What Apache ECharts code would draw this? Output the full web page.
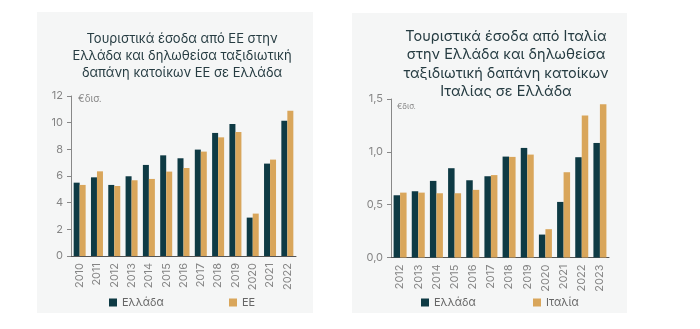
<!DOCTYPE html>
<html><head><meta charset="utf-8">
<script src="https://cdn.jsdelivr.net/npm/echarts@6/dist/echarts.min.js"></script>
<style>html,body{margin:0;padding:0;background:#fff}#c{width:700px;height:329px}</style>
</head><body><div id="c"></div>
<script>
const yearsEU = ['2010','2011','2012','2013','2014','2015','2016','2017','2018','2019','2020','2021','2022'];
const greeceEU = [5.5,5.9,5.33,5.98,6.83,7.55,7.33,7.98,9.23,9.9,2.88,6.93,10.15];
const euSpend = [5.33,6.35,5.25,5.68,5.78,6.33,6.6,7.83,8.9,9.3,3.18,7.23,10.9];
const euTicks = ['0','2','4','6','8','10','12'];

const yearsIT = ['2012','2013','2014','2015','2016','2017','2018','2019','2020','2021','2022','2023'];
const greeceIT = [0.589,0.627,0.725,0.845,0.731,0.769,0.955,1.037,0.217,0.526,0.949,1.084];
const itSpend = [0.614,0.614,0.608,0.608,0.64,0.78,0.952,0.974,0.268,0.807,1.343,1.45];
const itTicks = ['0,0','0,5','1,0','1,5'];

const DARK = '#0e3a44', GOLD = '#d9a65b', AXIS = '#888', LBL = '#858585';
const FONT = 'Inter, "Open Sans", sans-serif';
const chart = echarts.init(document.getElementById('c'));
const catAxis = (data, gi) => ({
  type:'category', gridIndex:gi, data:data,
  axisLine:{lineStyle:{color:'#555',width:1}}, axisTick:{show:false},
  axisLabel:{rotate:90, color:LBL, fontSize:11, fontFamily:FONT, margin:7}
});
chart.setOption({
  animation:false,
  graphic:[
    {type:'rect', shape:{x:37,y:12,width:276,height:301}, style:{fill:'#f5f6f6'}, z:-10},
    {type:'rect', shape:{x:352,y:13,width:275,height:300}, style:{fill:'#f5f6f6'}, z:-10},
    {type:'text', left:78, top:94, style:{text:'€δισ.', fill:'#888', fontSize:10, fontFamily:FONT}},
    {type:'text', left:397, top:103, style:{text:'€δισ.', fill:'#888', fontSize:8, fontFamily:FONT}}
  ],
  title:[
    {text:'Τουριστικά έσοδα από ΕΕ στην\nΕλλάδα και δηλωθείσα ταξιδιωτική\nδαπάνη κατοίκων ΕΕ σε Ελλάδα',
     left:177, top:26, textAlign:'center',
     textStyle:{fontSize:13, fontWeight:'normal', color:'#263c42', fontFamily:FONT, lineHeight:17}},
    {text:'Τουριστικά έσοδα από Ιταλία\nστην Ελλάδα και δηλωθείσα\nταξιδιωτική δαπάνη κατοίκων\nΙταλίας σε Ελλάδα',
     left:501, top:22, textAlign:'center',
     textStyle:{fontSize:14.5, fontWeight:'normal', color:'#263c42', fontFamily:FONT, lineHeight:18.5}}
  ],
  legend:[
    {data:['Ελλάδα'], left:104, top:292, itemWidth:8, itemHeight:8, itemGap:4,
     textStyle:{color:'#666', fontSize:11, fontFamily:FONT}, icon:'rect'},
    {data:['ΕΕ'], left:224, top:292, itemWidth:8, itemHeight:8,
     textStyle:{color:'#666', fontSize:11, fontFamily:FONT}, icon:'rect'},
    {data:['Ελλάδα '], left:416, top:292, itemWidth:8, itemHeight:8,
     textStyle:{color:'#666', fontSize:11, fontFamily:FONT}, icon:'rect', formatter:()=>'Ελλάδα'},
    {data:['Ιταλία'], left:528, top:292, itemWidth:8, itemHeight:8,
     textStyle:{color:'#666', fontSize:11, fontFamily:FONT}, icon:'rect'}
  ],
  grid:[
    {left:71, top:96, width:225, height:160},
    {left:391, top:99, width:218, height:158.5}
  ],
  xAxis:[catAxis(yearsEU,0), catAxis(yearsIT,1)],
  yAxis:[
    {type:'value', gridIndex:0, min:0, max:12, interval:2,
     axisLine:{show:true, lineStyle:{color:AXIS}}, axisTick:{show:true, length:4, lineStyle:{color:AXIS}},
     splitLine:{show:false},
     axisLabel:{color:LBL, fontSize:11, fontFamily:FONT, margin:8, formatter:(v)=>euTicks[Math.round(v/2)]}},
    {type:'value', gridIndex:1, min:0, max:1.5, interval:0.5,
     axisLine:{show:true, lineStyle:{color:AXIS}}, axisTick:{show:true, length:4, lineStyle:{color:AXIS}},
     splitLine:{show:false},
     axisLabel:{color:LBL, fontSize:11, fontFamily:FONT, margin:8, formatter:(v)=>itTicks[Math.round(v*2)]}}
  ],
  series:[
    {name:'Ελλάδα', type:'bar', xAxisIndex:0, yAxisIndex:0, data:greeceEU, itemStyle:{color:DARK}, barWidth:6, barGap:'0%'},
    {name:'ΕΕ', type:'bar', xAxisIndex:0, yAxisIndex:0, data:euSpend, itemStyle:{color:GOLD}, barWidth:6, barGap:'0%'},
    {name:'Ελλάδα ', type:'bar', xAxisIndex:1, yAxisIndex:1, data:greeceIT, itemStyle:{color:DARK}, barWidth:6.5, barGap:'0%'},
    {name:'Ιταλία', type:'bar', xAxisIndex:1, yAxisIndex:1, data:itSpend, itemStyle:{color:GOLD}, barWidth:6.5, barGap:'0%'}
  ]
});
</script></body></html>
